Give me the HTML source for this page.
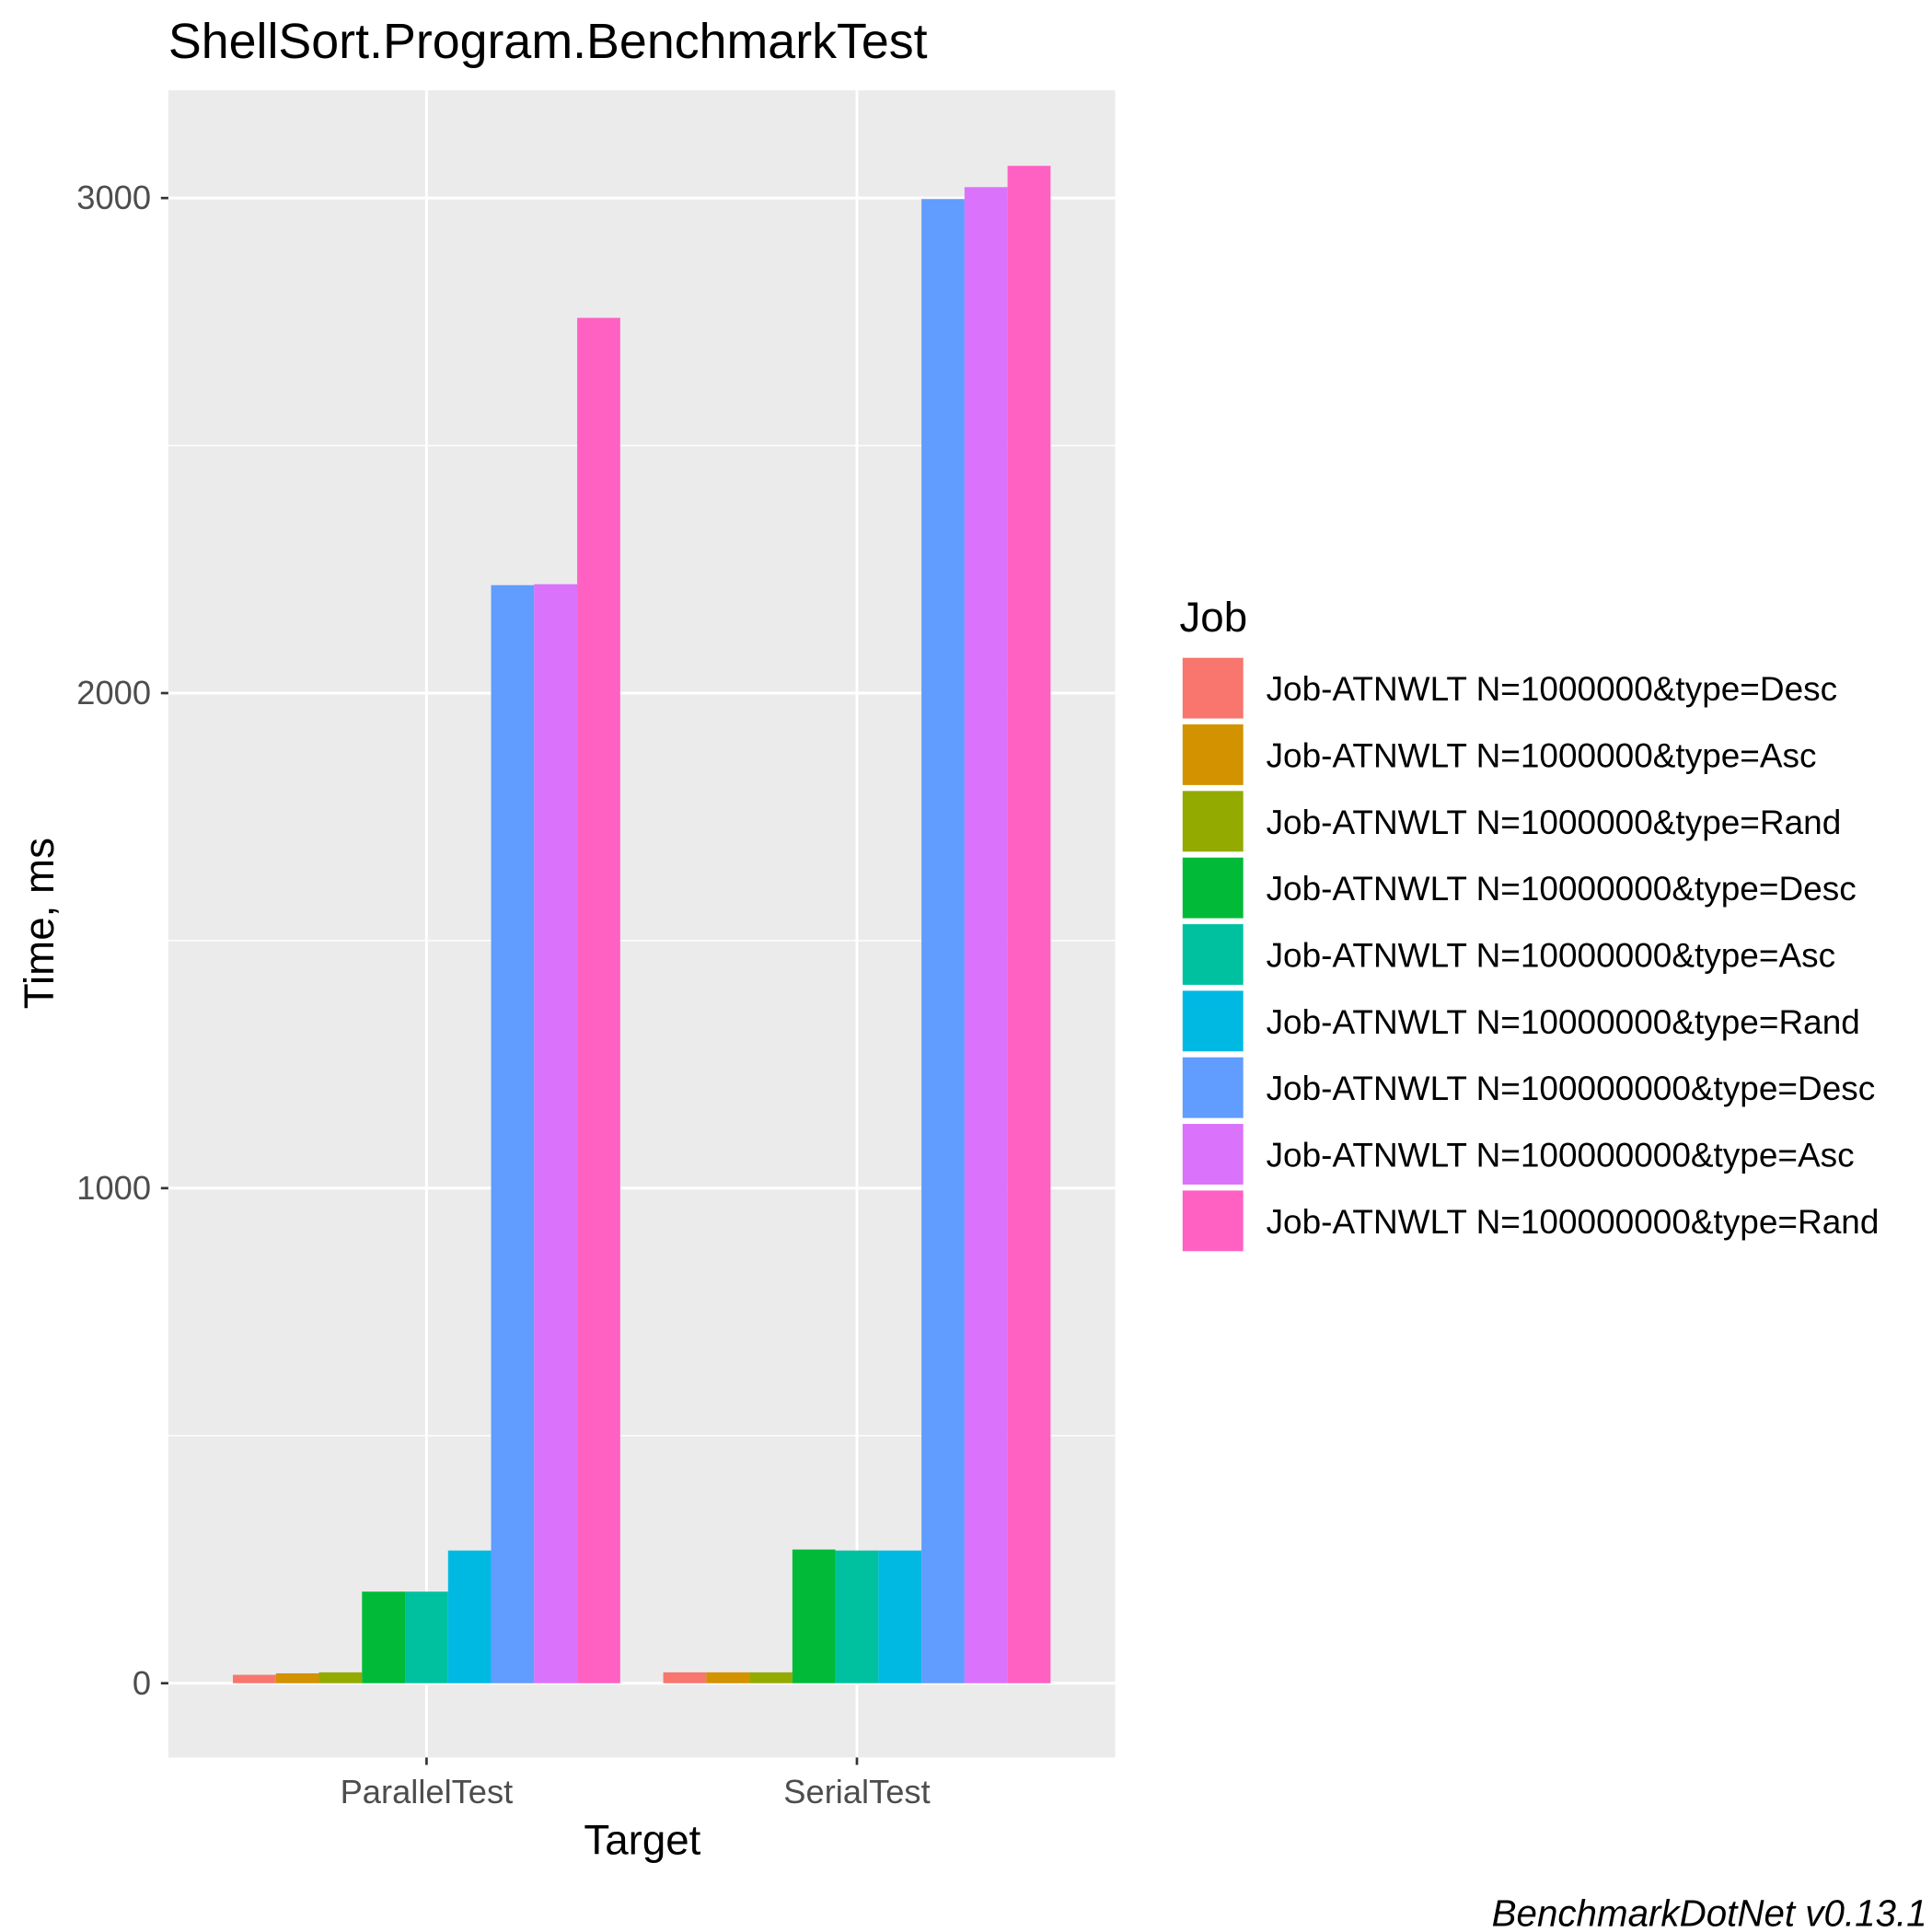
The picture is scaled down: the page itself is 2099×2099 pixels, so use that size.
<!DOCTYPE html>
<html><head><meta charset="utf-8"><style>
html,body{margin:0;padding:0;background:#fff;}
svg{display:block;font-family:"Liberation Sans",Arial,sans-serif;}
</style></head><body>
<svg id="chart" width="2099" height="2099" viewBox="0 0 1561 1561" xmlns="http://www.w3.org/2000/svg">
<rect x="0" y="0" width="1561" height="1561" fill="#fff"/>
<text x="136" y="47" font-size="40" fill="#000">ShellSort.Program.BenchmarkTest</text>
<rect x="136" y="73" width="765" height="1347" fill="#ebebeb"/>
<g id="grid"></g>
<g id="bars"></g>
<g id="axes"></g>
<text transform="translate(43,746) rotate(-90)" text-anchor="middle" font-size="34" fill="#000">Time, ms</text>
<text x="519" y="1498" text-anchor="middle" font-size="34" fill="#000">Target</text>
<g id="legend">
<text x="953" y="510" font-size="34" fill="#000">Job</text>
</g>
<text x="1557" y="1556" text-anchor="end" font-size="30" font-style="italic" fill="#000">BenchmarkDotNet v0.13.1</text>
</svg>
<script>
const categories = ["ParallelTest","SerialTest"];
const jobs = ["Job-ATNWLT N=1000000&type=Desc","Job-ATNWLT N=1000000&type=Asc","Job-ATNWLT N=1000000&type=Rand","Job-ATNWLT N=10000000&type=Desc","Job-ATNWLT N=10000000&type=Asc","Job-ATNWLT N=10000000&type=Rand","Job-ATNWLT N=100000000&type=Desc","Job-ATNWLT N=100000000&type=Asc","Job-ATNWLT N=100000000&type=Rand"];
const parallelValues = [17,20,22,185,185,268,2218,2220,2758];
const serialValues = [22,22,22,270,268,268,2998,3022,3065];
const yTicks = [0,1000,2000,3000];
const yMinor = [500,1500,2500];
const colors = ["#F8766D","#D39200","#93AA00","#00BA38","#00C19F","#00B9E3","#619CFF","#DB72FB","#FF61C3"];

const NS="http://www.w3.org/2000/svg";
const panel={x:136,y:73,w:765,h:1347};
const yMin=-150, yMax=3217.5;
function y(v){return panel.y+panel.h-(v-yMin)/(yMax-yMin)*panel.h;}
function cx(i){
  const n=categories.length, lo=1-0.6, hi=n+0.6;
  return panel.x+((i+1)-lo)/(hi-lo)*panel.w;
}
const groupW=(cx(1)-cx(0))*0.9;
function mk(tag,attrs,parent){const e=document.createElementNS(NS,tag);for(const k in attrs)e.setAttribute(k,attrs[k]);parent.appendChild(e);return e;}
const grid=document.getElementById('grid'), bars=document.getElementById('bars'), axes=document.getElementById('axes'), legend=document.getElementById('legend');
yMinor.forEach(v=>{const l=mk('line',{x1:panel.x,x2:panel.x+panel.w,y1:y(v),y2:y(v),stroke:'#fff','stroke-width':1},grid);

});
yTicks.forEach(v=>{const l=mk('line',{x1:panel.x,x2:panel.x+panel.w,y1:y(v),y2:y(v),stroke:'#fff','stroke-width':2.2},grid);


const t=mk('line',{x1:panel.x-6,x2:panel.x,y1:y(v),y2:y(v),stroke:'#333','stroke-width':2},axes);


const tx=mk('text',{x:panel.x-14,y:y(v)+9,'text-anchor':'end','font-size':27,fill:'#4d4d4d'},axes);tx.textContent=v;

});
categories.forEach((c,i)=>{const x=cx(i);
const l=mk('line',{x1:x,x2:x,y1:panel.y,y2:panel.y+panel.h,stroke:'#fff','stroke-width':2.2},grid);


const t=mk('line',{x1:x,x2:x,y1:panel.y+panel.h,y2:panel.y+panel.h+6,stroke:'#333','stroke-width':2},axes);


const tx=mk('text',{x:x,y:1457,'text-anchor':'middle','font-size':27,fill:'#4d4d4d'},axes);tx.textContent=c;


const vals=i===0?parallelValues:serialValues;
const bw=groupW/jobs.length;
vals.forEach((v,j)=>{const bx=x-groupW/2+j*bw;const top=y(Math.max(v,0)),bot=y(0);
const r=mk('rect',{x:bx,y:top,width:bw,height:Math.max(bot-top,0),fill:colors[j]},bars);

});
});
jobs.forEach((j,k)=>{const yy=531+k*53.8;
const r=mk('rect',{x:955,y:yy,width:50,height:50,fill:colors[k],stroke:'#fff','stroke-width':1},legend);


const t=mk('text',{x:1023,y:yy+35,'font-size':27.5,fill:'#000'},legend);t.textContent=j;

});
</script>
</body></html>
